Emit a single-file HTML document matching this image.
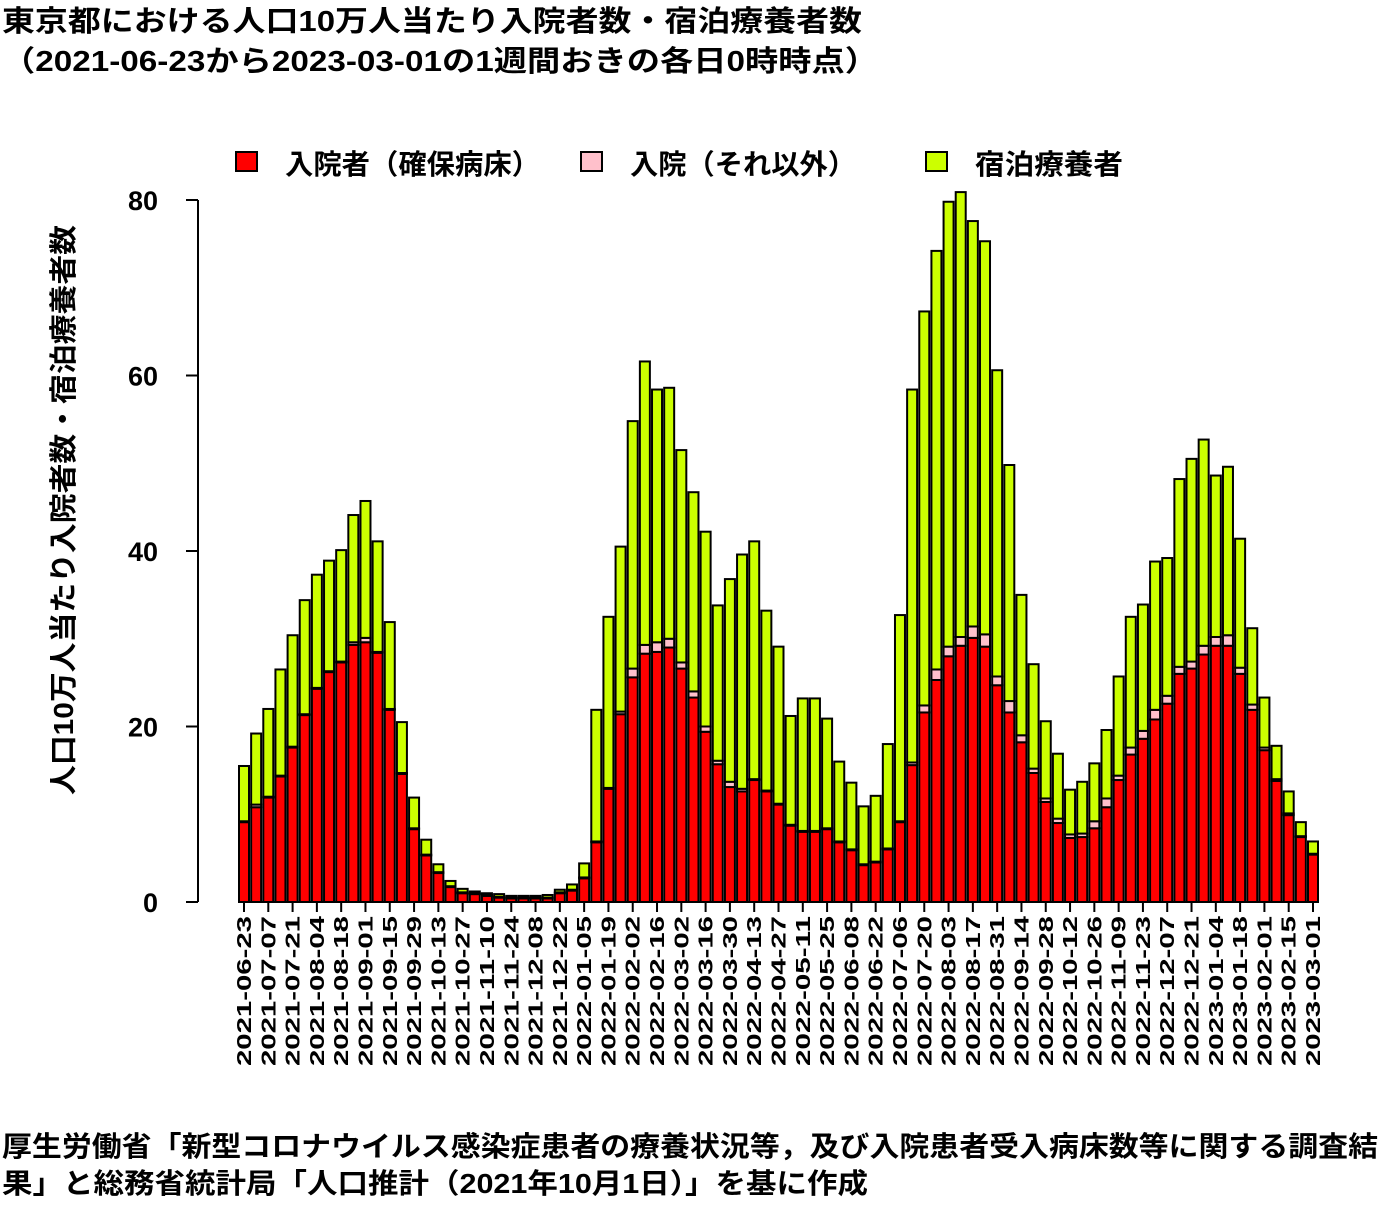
<!DOCTYPE html>
<html><head><meta charset="utf-8">
<style>
html,body{margin:0;padding:0;background:#fff;}
body{width:1400px;height:1200px;overflow:hidden;font-family:"Liberation Sans","Noto Sans CJK JP",sans-serif;font-weight:bold;}
svg text{font-family:"Liberation Sans","Noto Sans CJK JP",sans-serif;font-weight:bold;}
</style></head>
<body>
<svg id="chart" width="1400" height="1200" xmlns="http://www.w3.org/2000/svg">
<text x="2" y="31" font-size="29" textLength="860" lengthAdjust="spacingAndGlyphs">東京都における人口10万人当たり入院者数・宿泊療養者数</text>
<text x="2" y="71" font-size="29" textLength="876" lengthAdjust="spacingAndGlyphs">（2021-06-23から2023-03-01の1週間おきの各日0時時点）</text>
<g>
<rect x="236" y="152" width="21" height="19" fill="#ff0000" stroke="#000" stroke-width="2"/>
<text x="285" y="174" font-size="28" textLength="255" lengthAdjust="spacingAndGlyphs">入院者（確保病床）</text>
<rect x="581" y="152" width="21" height="19" fill="#ffc0cb" stroke="#000" stroke-width="2"/>
<text x="630" y="174" font-size="28" textLength="226" lengthAdjust="spacingAndGlyphs">入院（それ以外）</text>
<rect x="926" y="152" width="21" height="19" fill="#ccff00" stroke="#000" stroke-width="2"/>
<text x="975" y="174" font-size="28" textLength="148" lengthAdjust="spacingAndGlyphs">宿泊療養者</text>
</g>
<text transform="translate(73,510) rotate(-90)" text-anchor="middle" font-size="28" textLength="570" lengthAdjust="spacingAndGlyphs">人口10万人当たり入院者数・宿泊療養者数</text>
<g id="yaxis"></g>
<g id="bars"></g>
<g id="xaxis"></g>
<text x="2" y="1156" font-size="28" textLength="1376" lengthAdjust="spacingAndGlyphs">厚生労働省「新型コロナウイルス感染症患者の療養状況等，及び入院患者受入病床数等に関する調査結</text>
<text x="2" y="1193" font-size="28" textLength="866" lengthAdjust="spacingAndGlyphs">果」と総務省統計局「人口推計（2021年10月1日）」を基に作成</text>
</svg>
<script>
const redVals=[9.1,10.8,11.9,14.3,17.6,21.3,24.3,26.2,27.3,29.3,29.6,28.4,21.9,14.6,8.3,5.3,3.3,1.7,1.0,0.9,0.7,0.5,0.4,0.4,0.4,0.4,1.0,1.3,2.7,6.8,12.9,21.4,25.6,28.3,28.5,29.0,26.6,23.3,19.4,15.7,13.1,12.6,13.9,12.6,11.1,8.7,8.0,8.0,8.3,6.8,5.9,4.2,4.5,6.0,9.1,15.6,21.6,25.3,28.0,29.2,30.1,29.1,24.7,21.6,18.2,14.7,11.4,9.0,7.3,7.4,8.4,10.8,13.9,16.8,18.6,20.8,22.6,26.0,26.6,28.2,29.2,29.2,26.0,21.9,17.3,13.8,9.9,7.4,5.4];
const pinkVals=[0.1,0.3,0.1,0.1,0.1,0.1,0.1,0.1,0.1,0.3,0.5,0.1,0.1,0.1,0.1,0.1,0.1,0.1,0.1,0.1,0.1,0.1,0.1,0.1,0.1,0.1,0.1,0.1,0.1,0.1,0.1,0.3,1.0,1.0,1.1,1.0,0.7,0.7,0.6,0.4,0.6,0.3,0.1,0.1,0.1,0.1,0.1,0.1,0.1,0.1,0.1,0.1,0.1,0.1,0.1,0.3,0.8,1.2,1.1,1.0,1.3,1.4,1.0,1.3,0.8,0.5,0.4,0.5,0.4,0.4,0.8,1.0,0.5,0.8,0.9,1.1,0.9,0.8,0.8,1.0,1.0,1.2,0.7,0.6,0.3,0.2,0.2,0.1,0.1];
const totalVals=[15.5,19.2,22.0,26.5,30.4,34.4,37.3,38.9,40.1,44.1,45.7,41.1,31.9,20.5,11.9,7.1,4.3,2.4,1.5,1.2,1.0,0.9,0.7,0.7,0.7,0.8,1.4,2.0,4.4,21.9,32.5,40.5,54.8,61.6,58.4,58.6,51.5,46.7,42.2,33.8,36.8,39.6,41.1,33.2,29.1,21.2,23.2,23.2,20.9,16.0,13.6,10.9,12.1,18.0,32.7,58.4,67.3,74.2,79.8,80.9,77.6,75.3,60.6,49.8,35.0,27.1,20.6,16.9,12.8,13.7,15.8,19.6,25.7,32.5,33.9,38.8,39.2,48.2,50.5,52.7,48.6,49.6,41.4,31.2,23.3,17.8,12.6,9.1,6.9];
const yTicks=[0,20,40,60,80];
const startDate='2021-06-23';

const NS='http://www.w3.org/2000/svg';
const y0=902, y80=200;
function yScale(v){return y0-(v/80)*(y0-y80);}
const x1=244, xN=1313;
function xScale(i){return x1+i*(xN-x1)/(totalVals.length-1);}
function mk(tag,attrs,parent){const e=document.createElementNS(NS,tag);for(const k in attrs)e.setAttribute(k,attrs[k]);parent.appendChild(e);return e;}

const yax=document.getElementById('yaxis');
const yl=mk('line',{x1:198,x2:198,y1:yScale(0),y2:yScale(80),stroke:'#000','stroke-width':2},yax);


yTicks.forEach(t=>{
  const tk=mk('line',{x1:186,x2:198,y1:yScale(t),y2:yScale(t),stroke:'#000','stroke-width':2},yax);
  
  
  const tx=mk('text',{x:158,y:yScale(t)+10,'text-anchor':'end','font-size':27},yax);
  
  
  tx.textContent=t;
});

const bars=document.getElementById('bars');
const bw=10;
totalVals.forEach((tot,i)=>{
  const cx=xScale(i);
  const r=redVals[i], p=pinkVals[i];
  const segs=[[0,r,'#ff0000','bar-hospital'],[r,r+p,'#ffc0cb','bar-other'],[r+p,tot,'#ccff00','bar-hotel']];
  segs.forEach(s=>{
    if(s[1]<=s[0])return;
    const rc=mk('rect',{x:cx-bw/2,y:yScale(s[1]),width:bw,height:yScale(s[0])-yScale(s[1]),fill:s[2],stroke:'#000','stroke-width':2},bars);
    
    
  });
});

const xax=document.getElementById('xaxis');
const xl=mk('line',{x1:xScale(0),x2:xScale(totalVals.length-1),y1:y0,y2:y0,stroke:'#000','stroke-width':2},xax);


const sd=new Date(startDate+'T00:00:00Z');
for(let i=0;i<totalVals.length;i+=2){
  const cx=xScale(i);
  const tk=mk('line',{x1:cx,x2:cx,y1:y0,y2:y0+10,stroke:'#000','stroke-width':2},xax);
  
  
  const d=new Date(sd.getTime()+i*7*86400000);
  const lbl=d.toISOString().slice(0,10);
  const tx=mk('text',{transform:'translate('+(cx+7)+',916) rotate(-90)','text-anchor':'end','font-size':20,textLength:150,lengthAdjust:'spacingAndGlyphs'},xax);
  
  
  tx.textContent=lbl;
}
</script>
</body></html>
